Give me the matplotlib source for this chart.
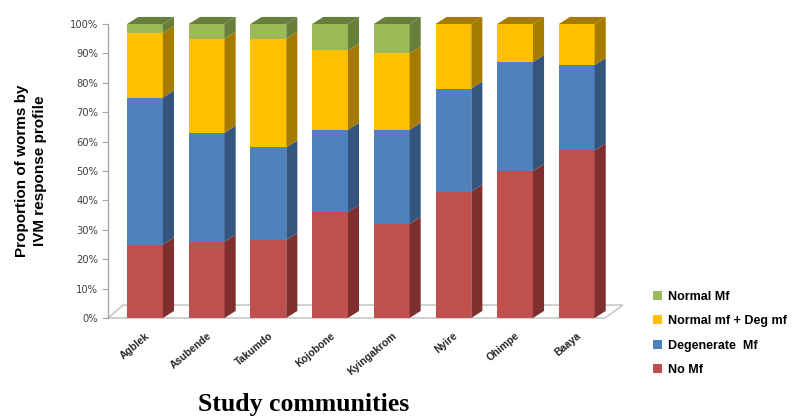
import matplotlib.pyplot as plt
from matplotlib.patches import Polygon, Patch

communities = ['Agblek', 'Asubende', 'Takumdo', 'Kojobone', 'Kyingakrom', 'Nyire', 'Ohimpe', 'Baaya']

# percent of worms per response profile
no_mf = [25, 26, 26.5, 36, 32, 43, 50, 57]
degenerate_mf = [50, 37, 31.5, 28, 32, 35, 37, 29]
normal_deg_mf = [22, 32, 37, 27, 26, 22, 13, 14]
normal_mf = [3, 5, 5, 9, 10, 0, 0, 0]

series = [
    ('No Mf', no_mf, '#C0504D', '#7F2F2D'),
    ('Degenerate  Mf', degenerate_mf, '#4F81BD', '#34557D'),
    ('Normal mf + Deg mf', normal_deg_mf, '#FFC000', '#A67C00'),
    ('Normal Mf', normal_mf, '#9BBB59', '#687E3B'),
]

W = 0.58     # bar width
DX = 0.18    # 3d depth offset (x units)
DY = 2.4     # 3d depth offset (y units)

fig = plt.figure(figsize=(8.06, 4.18), dpi=100)
ax = fig.add_axes([108 / 806, 100 / 418, 515 / 806, 294 / 418])
ax.set_xlim(-0.6, 7.75)
ax.set_ylim(0, 100)

# floor of the 3d chart
floor = Polygon([(-0.6, 0), (7.455, 0), (7.75, 4.4), (-0.357, 4.4)], closed=True,
                facecolor='none', edgecolor='#C8C8C8', linewidth=1.2, clip_on=False, zorder=1)
ax.add_patch(floor)

x = list(range(len(communities)))
bottoms = [0] * len(communities)
for name, vals, col, dark in series:
    ax.bar(x, vals, bottom=bottoms, width=W, color=col, edgecolor='none', zorder=3, clip_on=False)
    for i in x:
        b = bottoms[i]
        h = vals[i]
        if h <= 0:
            continue
        r = i + W / 2
        side = Polygon([(r, b), (r + DX, b + DY), (r + DX, b + h + DY), (r, b + h)],
                       closed=True, facecolor=dark, edgecolor='none', zorder=3, clip_on=False)
        ax.add_patch(side)
    bottoms = [bottoms[i] + vals[i] for i in x]

# top faces of the stacks
for i in x:
    top = bottoms[i]
    l, r = i - W / 2, i + W / 2
    col = '#687E3B'
    for name, vals, c, dark in series:
        if vals[i] > 0:
            col = dark
    ax.add_patch(Polygon([(l, top), (l + DX, top + DY), (r + DX, top + DY), (r, top)],
                         closed=True, facecolor=col, edgecolor='none', zorder=3, clip_on=False))

for s in ['top', 'right', 'bottom']:
    ax.spines[s].set_visible(False)
ax.spines['left'].set_color('#A6A6A6')
ax.spines['left'].set_linewidth(1)

ax.set_yticks(range(0, 101, 10))
ax.set_yticklabels([f'{v}%' for v in range(0, 101, 10)], fontsize=7.2, color='#404040')
ax.tick_params(axis='y', direction='out', length=4, color='#A6A6A6', pad=3)

ax.set_xticks(x)
ax.set_xticklabels(communities, rotation=40, ha='right', va='top', rotation_mode='anchor',
                   fontsize=7.5, fontweight='bold', color='#262626', family='Liberation Sans')
ax.tick_params(axis='x', length=0, pad=9)

fig.text(31 / 806, 1 - 171 / 418, 'Proportion of worms by\nIVM response profile', rotation=90,
         ha='center', va='center', fontsize=11, fontweight='bold', family='Liberation Sans',
         linespacing=1.3)

fig.text(304 / 806, 1 - 405 / 418, 'Study communities', ha='center', va='center',
         fontsize=18.5, fontweight='bold', family='Liberation Serif')

handles = [Patch(facecolor=c, edgecolor='none', label=n) for n, v, c, d in series[::-1]]
leg = ax.legend(handles=handles, loc='upper left', bbox_to_anchor=(653 / 806, 1 - 291 / 418),
                bbox_transform=fig.transFigure, frameon=False, prop={'family': 'Liberation Sans',
                'weight': 'bold', 'size': 9}, handlelength=0.75, handleheight=0.75,
                handletextpad=0.45, labelspacing=0.98, borderpad=0, borderaxespad=0)

fig.savefig('out.png', dpi=100)
